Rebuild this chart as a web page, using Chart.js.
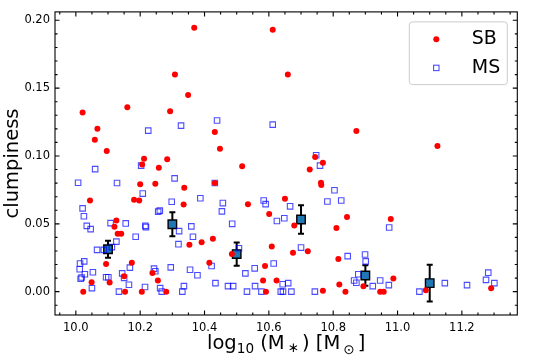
<!doctype html>
<html lang="en">
<head>
<meta charset="utf-8">
<title>clumpiness vs stellar mass</title>
<style>
  body { margin: 0; background: #fff; }
</style>
</head>
<body>
<canvas id="grafico" width="538" height="359"></canvas>

<script src="https://cdn.jsdelivr.net/npm/chart.js"></script>
<script>
// starburst galaxies (red dots)
const sbMass = [10.368, 10.308, 10.349, 10.021, 10.160, 10.293, 10.067, 10.059, 10.096, 10.432,
  10.448, 10.212, 10.284, 10.612, 10.659, 10.872, 10.744, 10.768, 11.124, 10.206,
  10.258, 10.200, 10.247, 10.337, 10.432, 10.044, 10.181, 10.197, 10.335, 10.126,
  10.120, 10.130, 10.141, 10.391, 10.353, 10.426, 10.094, 10.174, 10.415, 10.238,
  10.150, 10.255, 10.049, 10.105, 10.023, 10.153, 10.205, 10.281, 10.517, 10.727,
  10.762, 10.763, 10.535, 10.650, 10.601, 10.679, 10.843, 10.810, 10.979, 10.485,
  10.609, 10.675, 10.721, 10.816, 10.588, 10.582, 10.624, 10.591, 10.768, 10.819,
  10.838, 10.894, 10.987, 10.946, 10.957, 11.088, 11.291];
const sbClump = [0.1945, 0.160, 0.145, 0.132, 0.136, 0.133, 0.120, 0.112, 0.1036, 0.1177,
  0.1053, 0.098, 0.0976, 0.193, 0.160, 0.1184, 0.0993, 0.095, 0.1073, 0.0937,
  0.0913, 0.0791, 0.0796, 0.0765, 0.0801, 0.0672, 0.0677, 0.0672, 0.0643, 0.0524,
  0.0478, 0.0427, 0.0427, 0.0364, 0.0345, 0.039, 0.0204, 0.0213, 0.0213, 0.0138,
  0.0114, 0.0082, 0.007, 0.0068, 0.0, 0.0, 0.0, 0.0, 0.0925, 0.090,
  0.0803, 0.0787, 0.0645, 0.0685, 0.0572, 0.0488, 0.055, 0.047, 0.0536, 0.0277,
  0.0332, 0.0286, 0.0298, 0.024, 0.0189, 0.0082, 0.0082, 0.0, 0.0007, 0.0053,
  0.0, 0.0039, 0.0097, 0.0, 0.0, 0.001, 0.0026];

// main sequence galaxies (open blue squares)
const msMass = [10.225, 10.327, 10.439, 10.612, 10.747, 10.203, 10.060, 10.007, 10.128, 10.307,
  10.432, 10.208, 10.298, 10.387, 10.457, 10.021, 10.256, 10.261, 10.454, 10.025,
  10.108, 10.155, 10.034, 10.046, 10.216, 10.218, 10.359, 10.321, 10.364, 10.186,
  10.126, 10.319, 10.066, 10.087, 10.112, 10.013, 10.026, 10.012, 10.168, 10.243,
  10.247, 10.295, 10.355, 10.422, 10.378, 10.053, 10.028, 10.144, 10.018, 10.015,
  10.094, 10.101, 10.150, 10.165, 10.434, 10.050, 10.215, 10.262, 10.336, 10.473,
  10.134, 10.267, 10.331, 10.759, 10.804, 10.584, 10.590, 10.666, 10.782, 10.825,
  10.625, 10.648, 10.974, 10.486, 10.507, 10.700, 10.845, 10.899, 10.901, 10.615,
  10.556, 10.527, 10.643, 10.660, 10.489, 10.557, 10.532, 10.577, 10.637, 10.644,
  10.670, 10.743, 10.865, 10.872, 10.878, 10.923, 10.946, 10.973, 11.068, 11.147,
  11.216, 11.282, 11.275, 11.301];
const msClump = [0.1187, 0.1224, 0.1262, 0.1231, 0.1005, 0.0929, 0.0903, 0.0803, 0.0801, 0.0835,
  0.0801, 0.0723, 0.0663, 0.0689, 0.0653, 0.0614, 0.0590, 0.0597, 0.0592, 0.0556,
  0.0505, 0.0503, 0.0485, 0.0461, 0.0485, 0.0476, 0.0481, 0.0446, 0.0405, 0.0405,
  0.0369, 0.0350, 0.0308, 0.0308, 0.0328, 0.0208, 0.0223, 0.0165, 0.0177, 0.0170,
  0.0150, 0.0179, 0.0162, 0.0189, 0.0121, 0.0143, 0.0128, 0.0135, 0.0104, 0.0095,
  0.0106, 0.0106, 0.0102, 0.0051, 0.0063, 0.0026, 0.0034, 0.0026, 0.0041, 0.0041,
  0.0, 0.0, 0.0, 0.0929, 0.0747, 0.0672, 0.0645, 0.0629, 0.0665, 0.0672,
  0.0521, 0.0541, 0.0473, 0.0500, 0.0320, 0.0325, 0.0262, 0.0274, 0.0223, 0.0208,
  0.0172, 0.0135, 0.0055, 0.0063, 0.0041, 0.0041, 0.0, 0.0, 0.0, 0.0,
  0.0, 0.0, 0.0082, 0.0066, 0.0128, 0.0041, 0.0082, 0.0048, 0.0, 0.0063,
  0.0048, 0.0140, 0.0087, 0.0063];

// binned means with errors
const binMass = [10.1, 10.3, 10.5, 10.7, 10.9, 11.1];
const binClump = [0.0313, 0.0497, 0.0277, 0.0532, 0.0119, 0.0063];
const binErr = [0.0063, 0.0089, 0.0086, 0.0105, 0.0075, 0.0135];

const xTickValues = [10.0, 10.2, 10.4, 10.6, 10.8, 11.0, 11.2];
const yTickValues = [0.00, 0.05, 0.10, 0.15, 0.20];

const fonte = "'DejaVu Sans', sans-serif";
const azul = 'rgba(0, 0, 255, 0.7)';

function pontos(xs, ys) {
  return xs.map((v, i) => ({ x: v, y: ys[i] }));
}

// ticks pointing inwards on every side, frame, error bars, legend, x title
const extras = {
  id: 'extras',
  beforeDatasetDraw(chart, args) {
    if (args.index !== 2) return;
    const { ctx, scales: { x, y } } = chart;
    ctx.save();
    ctx.strokeStyle = '#000';
    ctx.lineWidth = 2;
    binMass.forEach((m, i) => {
      const px = x.getPixelForValue(m);
      const top = y.getPixelForValue(binClump[i] + binErr[i]);
      const bot = y.getPixelForValue(binClump[i] - binErr[i]);
      ctx.beginPath();
      ctx.moveTo(px, top); ctx.lineTo(px, bot);
      ctx.moveTo(px - 3, top); ctx.lineTo(px + 3, top);
      ctx.moveTo(px - 3, bot); ctx.lineTo(px + 3, bot);
      ctx.stroke();
    });
    ctx.restore();
  },
  afterDraw(chart) {
    const { ctx, chartArea: a, scales: { x, y } } = chart;
    ctx.save();
    ctx.strokeStyle = '#000';
    ctx.lineWidth = 1.1;
    ctx.strokeRect(a.left, a.top, a.right - a.left, a.bottom - a.top);

    const tick = (len, vals, axis) => {
      ctx.beginPath();
      vals.forEach(v => {
        if (axis === 'x') {
          const p = x.getPixelForValue(v);
          ctx.moveTo(p, a.bottom); ctx.lineTo(p, a.bottom - len);
          ctx.moveTo(p, a.top); ctx.lineTo(p, a.top + len);
        } else {
          const p = y.getPixelForValue(v);
          ctx.moveTo(a.left, p); ctx.lineTo(a.left + len, p);
          ctx.moveTo(a.right, p); ctx.lineTo(a.right - len, p);
        }
      });
      ctx.stroke();
    };
    const minX = [];
    for (let k = Math.ceil(x.min / 0.05); k * 0.05 <= x.max; k++) {
      if (k % 4 !== 0) minX.push(k * 0.05);
    }
    const minY = [];
    for (let k = Math.ceil(y.min / 0.01); k * 0.01 <= y.max; k++) {
      if (k % 5 !== 0) minY.push(k * 0.01);
    }
    tick(4.5, xTickValues, 'x');
    tick(2.5, minX, 'x');
    tick(4.5, yTickValues, 'y');
    tick(2.5, minY, 'y');

    // legend
    const lx = a.right - 108, ly = a.top + 10, lw = 98, lh = 62.7;
    ctx.beginPath();
    ctx.roundRect(lx, ly, lw, lh, 3);
    ctx.fillStyle = 'rgba(255,255,255,0.8)';
    ctx.fill();
    ctx.strokeStyle = '#cccccc';
    ctx.lineWidth = 1;
    ctx.stroke();

    ctx.fillStyle = '#ff0000';
    ctx.beginPath();
    ctx.arc(lx + 27, ly + 17.4, 3, 0, Math.PI * 2);
    ctx.fill();
    ctx.strokeStyle = azul;
    ctx.lineWidth = 1.1;
    ctx.strokeRect(lx + 24.3, ly + 43.3, 5.4, 5.4);

    ctx.fillStyle = '#000';
    ctx.font = '19px ' + fonte;
    ctx.textBaseline = 'middle';
    ctx.textAlign = 'left';
    ctx.fillText('SB', lx + 62.5, ly + 17.4);
    ctx.fillText('MS', lx + 62.5, ly + 46);

    // x title: log10 (M*) [Msun] with subscripts
    const partes = [
      { t: 'log', s: 19.5, dy: 0, pad: 0 },
      { t: '10', s: 13.6, dy: 4, pad: 0 },
      { t: ' (M', s: 19.5, dy: 0, pad: 0 },
      { t: '∗', s: 13.6, dy: 3, pad: 3 },
      { t: ') [M', s: 19.5, dy: 0, pad: 0 },
      { t: '⊙', s: 13.6, dy: 4.5, pad: 3 },
      { t: ']', s: 19.5, dy: 0, pad: 0 }
    ];
    let total = 0;
    partes.forEach(p => {
      ctx.font = p.s + 'px ' + fonte;
      p.w = ctx.measureText(p.t).width + 2 * p.pad;
      total += p.w;
    });
    let cx = (a.left + a.right) / 2 - total / 2;
    const base = 349.3;
    ctx.textBaseline = 'alphabetic';
    partes.forEach(p => {
      ctx.font = p.s + 'px ' + fonte;
      ctx.fillText(p.t, cx + p.pad, base + p.dy);
      cx += p.w;
    });
    ctx.restore();
  }
};

new Chart(document.getElementById('grafico'), {
  type: 'scatter',
  data: {
    datasets: [
      {
        label: 'SB',
        data: pontos(sbMass, sbClump),
        pointStyle: 'circle',
        pointRadius: 3,
        pointHoverRadius: 3,
        backgroundColor: '#ff0000',
        borderWidth: 0
      },
      {
        label: 'MS',
        data: pontos(msMass, msClump),
        pointStyle: 'rect',
        pointRadius: 3.9,
        pointHoverRadius: 3.9,
        backgroundColor: 'rgba(0,0,0,0)',
        borderColor: azul,
        borderWidth: 1.1
      },
      {
        label: 'bins',
        data: pontos(binMass, binClump),
        pointStyle: 'rect',
        pointRadius: 6,
        pointHoverRadius: 6,
        backgroundColor: '#1f77b4',
        borderColor: '#000',
        borderWidth: 1.4
      }
    ]
  },
  options: {
    responsive: false,
    animation: false,
    devicePixelRatio: 1,
    layout: { padding: { top: 8.3, right: 20.7, left: 0, bottom: 0 } },
    plugins: { legend: { display: false }, tooltip: { enabled: false } },
    scales: {
      x: {
        type: 'linear',
        min: 9.9352,
        max: 11.3723,
        afterBuildTicks: s => { s.ticks = xTickValues.map(v => ({ value: v })); },
        afterFit: s => { s.height = 44; },
        grid: { display: false, drawTicks: false },
        border: { display: false },
        ticks: {
          color: '#000',
          padding: 6,
          maxRotation: 0,
          font: { family: fonte, size: 11.5 },
          callback: v => v.toFixed(1)
        }
      },
      y: {
        type: 'linear',
        min: -0.0172,
        max: 0.2062,
        afterBuildTicks: s => { s.ticks = yTickValues.map(v => ({ value: v })); },
        afterFit: s => { s.width = 55; },
        grid: { display: false, drawTicks: false },
        border: { display: false },
        ticks: {
          color: '#000',
          padding: 5,
          font: { family: fonte, size: 11.5 },
          callback: v => v.toFixed(2)
        },
        title: {
          display: true,
          text: 'clumpiness',
          color: '#000',
          font: { family: fonte, size: 19.5 },
          padding: { top: 1, bottom: 0 }
        }
      }
    }
  },
  plugins: [extras]
});
</script>
</body>
</html>
